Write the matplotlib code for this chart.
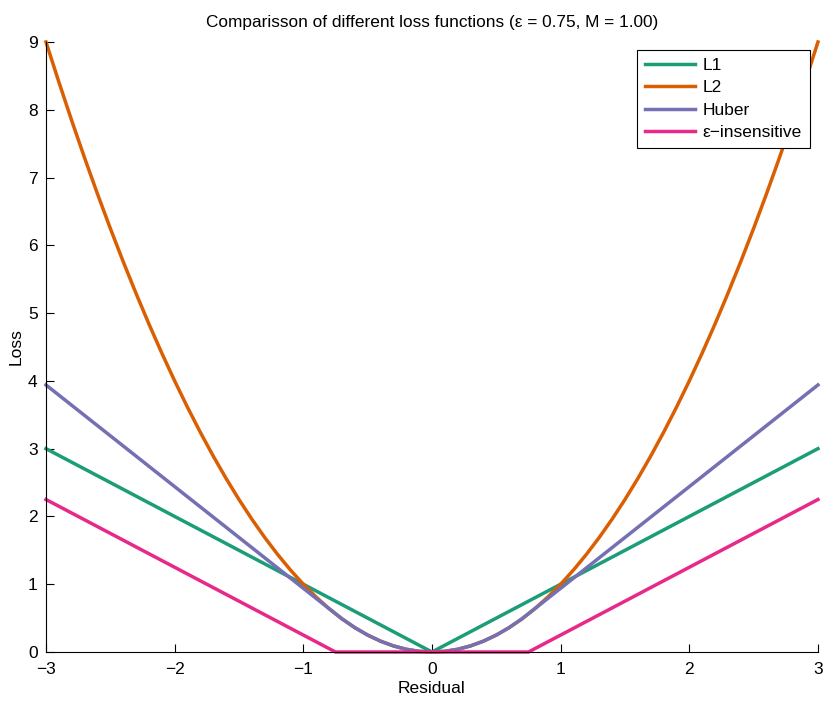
import matplotlib
matplotlib.use("Agg")
import matplotlib.pyplot as plt

plt.rcParams['font.family'] = ['Liberation Sans', 'DejaVu Sans']

# residual grid used for the curved losses (step 0.1)
residual = [-3.0, -2.9, -2.8, -2.7, -2.6, -2.5, -2.4, -2.3, -2.2, -2.1,
            -2.0, -1.9, -1.8, -1.7, -1.6, -1.5, -1.4, -1.3, -1.2, -1.1,
            -1.0, -0.9, -0.8, -0.7, -0.6, -0.5, -0.4, -0.3, -0.2, -0.1,
            0.0, 0.1, 0.2, 0.3, 0.4, 0.5, 0.6, 0.7, 0.8, 0.9,
            1.0, 1.1, 1.2, 1.3, 1.4, 1.5, 1.6, 1.7, 1.8, 1.9,
            2.0, 2.1, 2.2, 2.3, 2.4, 2.5, 2.6, 2.7, 2.8, 2.9, 3.0]

l2_loss = [9.0, 8.41, 7.84, 7.29, 6.76, 6.25, 5.76, 5.29, 4.84, 4.41,
           4.0, 3.61, 3.24, 2.89, 2.56, 2.25, 1.96, 1.69, 1.44, 1.21,
           1.0, 0.81, 0.64, 0.49, 0.36, 0.25, 0.16, 0.09, 0.04, 0.01,
           0.0, 0.01, 0.04, 0.09, 0.16, 0.25, 0.36, 0.49, 0.64, 0.81,
           1.0, 1.21, 1.44, 1.69, 1.96, 2.25, 2.56, 2.89, 3.24, 3.61,
           4.0, 4.41, 4.84, 5.29, 5.76, 6.25, 6.76, 7.29, 7.84, 8.41, 9.0]

huber_loss = [3.94, 3.79, 3.64, 3.49, 3.34, 3.19, 3.04, 2.89, 2.74, 2.59,
              2.44, 2.29, 2.14, 1.99, 1.84, 1.69, 1.54, 1.39, 1.24, 1.09,
              0.94, 0.79, 0.64, 0.49, 0.36, 0.25, 0.16, 0.09, 0.04, 0.01,
              0.0, 0.01, 0.04, 0.09, 0.16, 0.25, 0.36, 0.49, 0.64, 0.79,
              0.94, 1.09, 1.24, 1.39, 1.54, 1.69, 1.84, 1.99, 2.14, 2.29,
              2.44, 2.59, 2.74, 2.89, 3.04, 3.19, 3.34, 3.49, 3.64, 3.79, 3.94]

# piecewise linear ones only need their corners
l1_x = [-3.0, 0.0, 3.0]
l1_loss = [3.0, 0.0, 3.0]

eps_x = [-3.0, -0.75, 0.75, 3.0]
eps_loss = [2.25, 0.0, 0.0, 2.25]

x_ticks = [-3, -2, -1, 0, 1, 2, 3]
y_ticks = [0, 1, 2, 3, 4, 5, 6, 7, 8, 9]

colors = {"L1": "#1b9e77", "L2": "#d95f02", "Huber": "#7570b3", "eps": "#e7298a"}

fig = plt.figure(figsize=(8.3, 7.01), dpi=100)
ax = fig.add_axes([0.0554, 0.0699, 0.9301, 0.8702])

lw = 2.5
ax.plot(l1_x, l1_loss, color=colors["L1"], lw=lw, label="L1", clip_on=False)
ax.plot(residual, l2_loss, color=colors["L2"], lw=lw, label="L2", clip_on=False)
ax.plot(residual, huber_loss, color=colors["Huber"], lw=lw, label="Huber", clip_on=False)
ax.plot(eps_x, eps_loss, color=colors["eps"], lw=lw, label="\u03b5\u2212insensitive", clip_on=False)

ax.set_xlim(-3, 3)
ax.set_ylim(0, 9)
ax.set_xticks(x_ticks)
ax.set_yticks(y_ticks)
ax.set_xticklabels([str(t).replace("-", "\u2212") for t in x_ticks])
ax.tick_params(direction="in", length=6, labelsize=12.5, width=0.8)
ax.tick_params(axis="x", pad=7)
ax.tick_params(axis="y", pad=6)

ax.spines["top"].set_visible(False)
ax.spines["right"].set_visible(False)

ax.set_xlabel("Residual", fontsize=12.5, labelpad=3)
ax.set_ylabel("Loss", fontsize=12.5, labelpad=3)
ax.set_title("Comparisson of different loss functions (\u03b5 = 0.75, M = 1.00)",
             fontsize=12.4, pad=11)

leg = ax.legend(loc="upper right", bbox_to_anchor=(0.9896, 0.987), borderaxespad=0,
                fontsize=12.5, fancybox=False, framealpha=1, edgecolor="black",
                handlelength=2.9, borderpad=0.45, labelspacing=0.42, handletextpad=0.45)
leg.get_frame().set_linewidth(0.8)

fig.savefig("out.png", dpi=100)
